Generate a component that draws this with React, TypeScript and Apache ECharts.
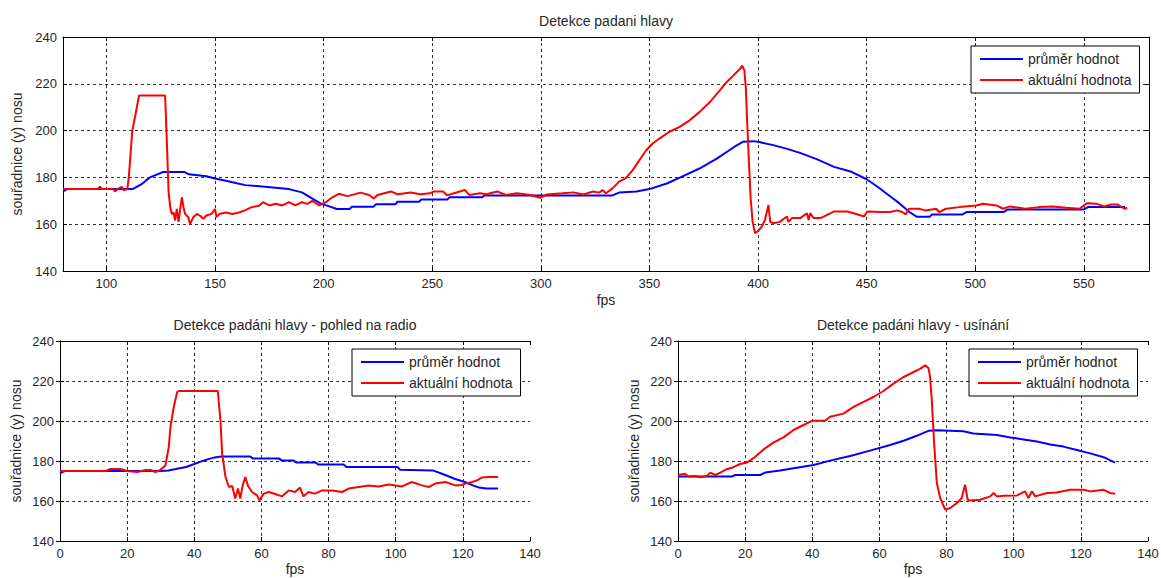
import React, { useEffect, useRef } from "react";
import * as echarts from "echarts";

// ---------- data ----------
// Top plot: Detekce padani hlavy
const topAvgFps = [80, 82, 112, 116, 120, 124, 126, 136, 138, 146, 150, 155, 160, 164, 173, 184, 190, 195, 199, 203, 206, 212, 213, 223, 224, 233, 234, 244, 245, 257, 258, 273, 274, 333, 336, 344, 350, 358, 365, 373, 381, 389, 393, 398, 401, 407, 413, 419, 427, 435, 443, 450, 455, 460, 465, 470, 473, 479, 480, 494, 496, 513, 515, 550, 552, 569];
const topAvgVal = [174, 175, 175, 177, 180, 181.5, 182.3, 182.3, 181.3, 180.5, 179.5, 178.6, 177.5, 176.7, 176, 175, 173.6, 170.8, 168.7, 167.5, 166.5, 166.5, 167.5, 167.5, 168.5, 168.5, 169.6, 169.6, 170.6, 170.6, 171.5, 171.5, 172.3, 172.3, 173.5, 174, 175, 177.4, 180.3, 183.8, 188, 193, 195.2, 195.5, 195, 193.8, 192.3, 190.6, 187.8, 184.5, 182.4, 179.2, 176, 172.5, 169, 165, 163.2, 163.2, 164.1, 164.1, 165.2, 165.2, 166.3, 166.3, 167.3, 167.3];
const topCurFps = [80, 96, 97, 98, 103, 104, 105, 107, 108, 109.6, 110.3, 111.9, 113.4, 115, 127, 127.9, 128.6, 129.4, 130.1, 130.9, 131.6, 132.4, 133.2, 133.9, 134.7, 135.5, 136.2, 137.7, 138.5, 140, 141.6, 143, 144.6, 146, 148.4, 150, 150.7, 152, 155, 158, 161, 164, 166.6, 170.5, 172, 175, 178, 181, 184, 187, 190, 192.5, 194.8, 198, 201, 204, 207, 211, 217, 221, 223, 224.8, 231, 234, 240, 244.6, 249, 250.8, 255, 256.9, 260, 265, 267, 272, 275, 279.8, 284, 289, 295, 299.7, 302.8, 310, 315, 319.6, 324, 327, 328.4, 330, 333, 336, 339, 342.3, 345.4, 348.5, 351.5, 354.6, 359, 363.9, 368.5, 373, 377.8, 382.4, 385.5, 388.6, 391.7, 392.7, 393.7, 394.4, 395, 395.8, 396.6, 397.5, 398.6, 400, 401.7, 403.2, 404.8, 405.6, 407, 410, 413.3, 414, 415.6, 419.4, 422.5, 423.3, 424, 425.6, 428.7, 431.8, 434.9, 441, 444, 448.8, 450.3, 457, 461, 464, 466.4, 468, 469.5, 474, 477, 482, 483.4, 486.5, 492.7, 500.5, 503.6, 509.8, 512.8, 516, 523, 529.3, 535.5, 541.8, 548, 551.5, 556, 559.3, 562.5, 565.6, 568.7, 570];
const topCurVal = [175, 175, 176, 175, 175, 174, 175, 176, 174.5, 175, 180, 200, 207, 215, 215, 193, 174, 167, 164.4, 165, 161.6, 166.5, 161, 166, 171.5, 167.2, 164.4, 163, 160, 163, 164.4, 163.7, 162.3, 163.7, 164.4, 166.5, 163, 164.4, 165, 164.4, 165, 166, 167.2, 168, 169.4, 168, 168.7, 168, 169.4, 168, 169.4, 168.7, 170, 168, 169.4, 171.5, 173, 172, 173.5, 172.5, 171, 172.5, 174, 172.8, 173.5, 172.8, 173.2, 174, 174, 172.3, 173.2, 174.6, 172.5, 173.2, 172.8, 174, 172.5, 173.2, 172.5, 171.3, 172.7, 173.2, 173.6, 172.7, 174, 173.5, 174.6, 173.2, 175.3, 178.2, 179.6, 183.1, 187.4, 191.6, 194.5, 196.6, 199.4, 201.6, 204.4, 207.9, 212.2, 217.2, 220.7, 223.5, 226.4, 227.8, 225.7, 217.9, 203.7, 186.7, 171, 161, 156.2, 157, 159, 161.8, 168.2, 161, 160.4, 161, 163.3, 161, 162.6, 162.6, 164.7, 161.8, 164.7, 162.6, 162.6, 164, 165.4, 165.4, 164.7, 163.3, 165.4, 165.2, 165.2, 165.9, 165.2, 164.2, 166.6, 166.6, 165.9, 166.6, 165.2, 166.6, 167.3, 168, 168.7, 168, 166.6, 167.6, 166.6, 167.3, 167.6, 167, 166.6, 169, 168.7, 167.6, 168.4, 168.4, 166.6, 167];

// Bottom left: pohled na radio
const radioAvgFps = [0, 1.5, 30, 32.3, 34.5, 37.6, 40, 41.9, 44, 46.1, 48, 56.7, 57.5, 65.3, 66, 69.5, 70.3, 76, 77, 84.5, 85.3, 100.5, 101.3, 111, 114, 117.7, 120.6, 123, 124.8, 127, 130.5];
const radioAvgVal = [174, 175, 175, 175.3, 176, 177, 178.5, 179.7, 180.8, 181.8, 182.2, 182.2, 181.2, 181.2, 180.3, 180.3, 179.3, 179.3, 178.2, 178.2, 177, 177, 175.6, 175.3, 173.5, 171, 169.5, 167.8, 166.7, 166.3, 166.3];
const radioCurFps = [0, 13.6, 15, 18, 20, 23, 25.5, 27, 28.4, 29.9, 31.4, 32.4, 32.9, 33.9, 34.9, 35.4, 47, 47.8, 48.3, 49.3, 50.3, 51.3, 52.2, 53, 53.7, 54.4, 55.2, 56, 57.2, 58.7, 59.4, 60.7, 62.2, 64.1, 66.1, 68.1, 70, 71.5, 72.5, 74, 76, 78, 81, 84, 86, 89, 92, 94.9, 97.9, 101.9, 104.8, 107.8, 109.8, 111.8, 114.8, 117.8, 119.6, 120.7, 122.7, 124.2, 125.6, 127.6, 130.5];
const radioCurVal = [175, 175, 176, 176, 175, 174.5, 175.5, 175.5, 174.5, 175.5, 177.8, 187, 197, 207, 214.5, 215, 215, 200.3, 183.7, 172, 167, 167.5, 161.2, 166.2, 161.2, 167.8, 172, 167.5, 164.5, 162.8, 160.3, 163.7, 164.5, 163.5, 162.3, 165.3, 164.5, 166.7, 162.3, 164.5, 163.7, 165.3, 165.3, 164.5, 166.2, 167, 167.8, 167.3, 168.3, 167.3, 169.5, 167.8, 167, 168.7, 169.5, 167.8, 168, 168.7, 169.5, 170.3, 171.7, 172, 172];

// Bottom right: usínání
const sleepAvgFps = [0, 16, 17, 24.5, 26, 30.4, 34.4, 40.4, 45.3, 51.3, 57.2, 63.2, 67.2, 71.1, 74.6, 77.1, 85, 88, 95, 99, 102.9, 106.9, 110.9, 114.8, 118.8, 122.8, 126.8, 130.2];
const sleepAvgVal = [172.2, 172.2, 173, 173, 174.2, 175.2, 176.4, 178, 180.2, 182.5, 185.2, 188, 190.1, 192.6, 195.1, 195.4, 194.9, 193.8, 193, 191.8, 190.8, 189.7, 188.3, 187.2, 185.5, 183.8, 181.9, 179.2];
const sleepCurFps = [0, 2.1, 3.1, 5.1, 6.6, 8.6, 9.6, 11.1, 12.6, 14.5, 16.5, 18.5, 20.5, 22.5, 25.5, 28.4, 31.4, 34.4, 37.4, 39.9, 43.8, 45.3, 49.3, 52.3, 55.3, 58.2, 61.2, 64.2, 67.2, 70.2, 72.1, 73.6, 74.6, 75.1, 75.6, 76.3, 77.1, 78.1, 79.6, 81.1, 83.1, 84.5, 85.5, 86.3, 87, 90, 93, 94, 95, 97, 101, 103.4, 104.4, 105.4, 106.4, 109.9, 112.8, 116.8, 120.8, 122.8, 126.8, 128.7, 130.2];
const sleepCurVal = [173, 173.6, 172.2, 172.5, 171.9, 172.5, 174.2, 173, 174.2, 175.9, 176.9, 178.5, 179.2, 181.4, 185.8, 189.2, 191.8, 195.5, 198, 200.1, 200.1, 202.1, 203.7, 207.1, 209.6, 212, 215, 218.7, 222, 224.5, 226.1, 227.8, 226.5, 222, 210.4, 188.8, 168.9, 161.5, 155.7, 156.5, 159, 161.5, 168.1, 160.6, 160.3, 160.6, 162.3, 164, 162.3, 162.6, 162.8, 164.8, 161.5, 164.8, 162.3, 164, 164.3, 165.6, 165.6, 164.8, 165.6, 164, 163.6];

const AVG_NAME = "průměr hodnot";
const CUR_NAME = "aktuální hodnota";
const titles = ["Detekce padani hlavy", "Detekce padáni hlavy - pohled na radio", "Detekce padáni hlavy - usínání"];
const xLabel = "fps";
const yLabel = "souřadnice (y) nosu";
const xRanges = [
  { min: 80, max: 580, splitNumber: 10 },
  { min: 0, max: 140, interval: 20 },
  { min: 0, max: 140, interval: 20 },
];
const yRange = { min: 140, max: 240, interval: 20 };

const zip = (xs: number[], ys: number[]) => xs.map((x, i) => [x, ys[i]]);

const FONT = "'Liberation Sans', Arial, sans-serif";
const TXT = "#262626";

const grids = [
  { left: 63, top: 37, width: 1086, height: 234 },
  { left: 60, top: 341, width: 470, height: 200 },
  { left: 678, top: 341, width: 470, height: 200 },
];
const legendPos = [
  { left: 971, top: 46 },
  { left: 352, top: 349 },
  { left: 969, top: 349 },
];
const xNameGap = [22, 21, 21];

export default function App() {
  const ref = useRef<HTMLDivElement>(null);
  useEffect(() => {
    document.body.style.margin = "0";
    if (!ref.current) return;
    const chart = echarts.init(ref.current, undefined, { renderer: "svg" });

    const xAxes: any[] = [];
    const yAxes: any[] = [];
    const legends: any[] = [];
    grids.forEach((g, i) => {
      const xr = xRanges[i];
      xAxes.push({
        type: "value",
        gridIndex: i,
        position: "bottom",
        ...xr,
        name: xLabel,
        nameLocation: "middle",
        nameGap: xNameGap[i],
        nameTextStyle: { fontSize: 14, color: TXT, fontFamily: FONT },
        axisLine: { show: true, lineStyle: { color: "#000", width: 1 } },
        axisTick: { show: true, inside: true, length: 4, lineStyle: { color: "#000" } },
        axisLabel: { show: true, fontSize: 13, color: TXT, fontFamily: FONT, margin: 6, showMinLabel: i !== 0, showMaxLabel: i !== 0, hideOverlap: false },
        splitLine: { show: true, showMinLine: false, showMaxLine: false, lineStyle: { color: "#333", type: [3, 3], width: 1 } },
      });
      xAxes.push({
        type: "value",
        gridIndex: i,
        position: "top",
        ...xr,
        name: titles[i],
        nameLocation: "middle",
        nameGap: 9,
        nameTextStyle: { fontSize: 14, color: TXT, fontFamily: FONT },
        axisLine: { show: true, lineStyle: { color: "#000", width: 1 } },
        axisTick: { show: true, inside: true, length: 4, lineStyle: { color: "#000" } },
        axisLabel: { show: false },
        splitLine: { show: false },
      });
      yAxes.push({
        type: "value",
        gridIndex: i,
        position: "left",
        ...yRange,
        name: yLabel,
        nameLocation: "middle",
        nameGap: 37,
        nameRotate: 90,
        nameTextStyle: { fontSize: 14, color: TXT, fontFamily: FONT },
        axisLine: { show: true, lineStyle: { color: "#000", width: 1 } },
        axisTick: { show: true, inside: true, length: 4, lineStyle: { color: "#000" } },
        axisLabel: { show: true, fontSize: 13, color: TXT, fontFamily: FONT, margin: 6 },
        splitLine: { show: true, showMinLine: false, showMaxLine: false, lineStyle: { color: "#333", type: [3, 3], width: 1 } },
      });
      yAxes.push({
        type: "value",
        gridIndex: i,
        position: "right",
        ...yRange,
        axisLine: { show: true, lineStyle: { color: "#000", width: 1 } },
        axisTick: { show: true, inside: true, length: 4, lineStyle: { color: "#000" } },
        axisLabel: { show: false },
        splitLine: { show: false },
      });
      legends.push({
        show: true,
        orient: "vertical",
        left: legendPos[i].left,
        top: legendPos[i].top,
        data: [AVG_NAME, CUR_NAME],
        icon: "rect",
        itemWidth: 43,
        itemHeight: 2,
        itemGap: 5,
        padding: [5, 8, 5, 9],
        backgroundColor: "#fff",
        borderColor: "#000",
        borderWidth: 1,
        borderRadius: 0,
        selectedMode: false,
        textStyle: { fontSize: 14, color: TXT, fontFamily: FONT, lineHeight: 16 },
      });
    });

    const sets = [
      [topAvgFps, topAvgVal, topCurFps, topCurVal],
      [radioAvgFps, radioAvgVal, radioCurFps, radioCurVal],
      [sleepAvgFps, sleepAvgVal, sleepCurFps, sleepCurVal],
    ];
    const series: any[] = [];
    sets.forEach((s, i) => {
      series.push({
        type: "line",
        name: AVG_NAME,
        xAxisIndex: i * 2,
        yAxisIndex: i * 2,
        data: zip(s[0], s[1]),
        showSymbol: false,
        symbol: "none",
        color: "#0000ff",
        lineStyle: { color: "#0000ff", width: 2 },
        z: 3,
      });
      series.push({
        type: "line",
        name: CUR_NAME,
        xAxisIndex: i * 2,
        yAxisIndex: i * 2,
        data: zip(s[2], s[3]),
        showSymbol: false,
        symbol: "none",
        color: "#ff0000",
        lineStyle: { color: "#ff0000", width: 2 },
        z: 4,
      });
    });

    chart.setOption({
      animation: false,
      backgroundColor: "#ffffff",
      textStyle: { fontFamily: FONT },
      grid: grids.map((g) => ({ ...g, containLabel: false, outerBoundsMode: "none", show: false })),
      xAxis: xAxes,
      yAxis: yAxes,
      legend: legends,
      tooltip: { show: false },
      series,
    });
    return () => chart.dispose();
  }, []);
  return (
    <div
      ref={ref}
      style={{ position: "relative", width: 1161, height: 578, background: "#fff" }}
    />
  );
}
